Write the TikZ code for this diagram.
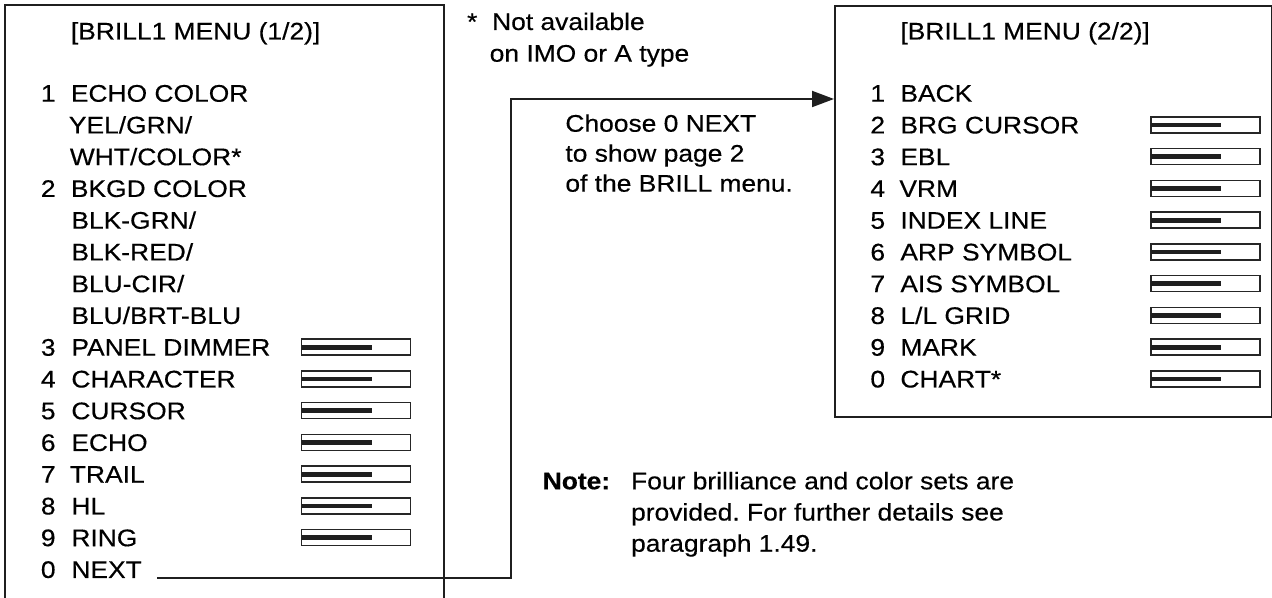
\documentclass[tikz,border=0pt]{standalone}
\usepackage{fontspec}
\setmainfont{Liberation Sans}[FakeStretch=1.1,FakeBold=0.4]
\usetikzlibrary{arrows.meta}
\frenchspacing
\begin{document}
\begin{tikzpicture}[x=0.5pt,y=-0.5pt,
  txt/.style={anchor=base west, inner sep=0pt, font=\fontsize{12}{14}\selectfont},
  frame/.style={line width=1pt, draw=black!88},
  conn/.style={line width=1pt, draw=black!88, -{Triangle[length=11pt,width=8pt]}},
  slider/.pic={\draw[line width=0.75pt, draw=black!85] (0,0) rectangle (109,16);
               \draw[line width=2.4pt, draw=black!88] (0,8) -- (70,8);}
]
\useasboundingbox (0,0) rectangle (1272,598);

% left menu frame (bottom cut off)
\draw[frame] (5,598) -- (5,5) -- (444,5) -- (444,598);

% right menu frame
\node[frame, draw, anchor=north west, minimum width=218.5pt, minimum height=205.5pt, inner sep=0pt] (m2) at (834,5) {};

% ---- left menu ----
\node[txt] (t1) at (70.5,39.5) {[BRILL1 MENU (1/2)]};
\node[txt] (l1n) at (40.5,101.7) {1};  \node[txt] (l1) at (70.5,101.7) {ECHO COLOR};
\node[txt] (l1a) at (68.5,133.45) {YEL/GRN/};
\node[txt] (l1b) at (69.5,165.2) {WHT/COLOR*};
\node[txt] (l2n) at (40.5,196.95) {2}; \node[txt] (l2) at (70.5,196.95) {BKGD COLOR};
\node[txt] (l2a) at (71,228.7) {BLK-GRN/};
\node[txt] (l2b) at (71,260.45) {BLK-RED/};
\node[txt] (l2c) at (71,292.2) {BLU-CIR/};
\node[txt] (l2d) at (71,323.95) {BLU/BRT-BLU};
\node[txt] (l3n) at (40.5,355.7) {3};  \node[txt] (l3) at (71,355.7) {PANEL DIMMER};
\node[txt] (l4n) at (40.5,387.45) {4}; \node[txt] (l4) at (71,387.45) {CHARACTER};
\node[txt] (l5n) at (40.5,419.2) {5};  \node[txt] (l5) at (71,419.2) {CURSOR};
\node[txt] (l6n) at (40.5,450.95) {6}; \node[txt] (l6) at (71,450.95) {ECHO};
\node[txt] (l7n) at (40.5,482.7) {7};  \node[txt] (l7) at (69.5,482.7) {TRAIL};
\node[txt] (l8n) at (40.5,514.45) {8}; \node[txt] (l8) at (71,514.45) {HL};
\node[txt] (l9n) at (40.5,546.2) {9};  \node[txt] (l9) at (71,546.2) {RING};
\node[txt] (l0n) at (40.5,577.95) {0}; \node[txt] (nx) at (71,577.95) {NEXT};

\foreach \b in {355.7,387.45,419.2,450.95,482.7,514.45,546.2}
  \pic at (301.7,\b-16.5) {slider};

% ---- right menu ----
\node[txt] (t2) at (900,39.5) {[BRILL1 MENU (2/2)]};
\node[txt] (r1n) at (870,101.7) {1};  \node[txt] (r1) at (900,101.7) {BACK};
\node[txt] (r2n) at (870,133.45) {2}; \node[txt] (r2) at (900,133.45) {BRG CURSOR};
\node[txt] (r3n) at (870,165.2) {3};  \node[txt] (r3) at (900,165.2) {EBL};
\node[txt] (r4n) at (870,196.95) {4}; \node[txt] (r4) at (899,196.95) {VRM};
\node[txt] (r5n) at (870,228.7) {5};  \node[txt] (r5) at (900,228.7) {INDEX LINE};
\node[txt] (r6n) at (870,260.45) {6}; \node[txt] (r6) at (900,260.45) {ARP SYMBOL};
\node[txt] (r7n) at (870,292.2) {7};  \node[txt] (r7) at (900,292.2) {AIS SYMBOL};
\node[txt] (r8n) at (870,323.95) {8}; \node[txt] (r8) at (900,323.95) {L/L GRID};
\node[txt] (r9n) at (870,355.7) {9};  \node[txt] (r9) at (900,355.7) {MARK};
\node[txt] (r0n) at (870,387.45) {0}; \node[txt] (r0) at (900,387.45) {CHART*};

\foreach \b in {133.45,165.2,196.95,228.7,260.45,292.2,323.95,355.7,387.45}
  \pic at (1151,\b-16.5) {slider};

% ---- middle texts ----
\node[txt] (ast) at (466.7,30) {*};
\node[txt] (na1) at (491.7,30) {Not available};
\node[txt] (na2) at (489.3,61.7) {on IMO or A type};
\node[txt] (c1) at (565,131.7) {Choose 0 NEXT};
\node[txt] (c2) at (565,161.7) {to show page 2};
\node[txt] (c3) at (565,191.7) {of the BRILL menu.};

\node[txt] (nt) at (542.3,489.3) {\textbf{Note:}};
\node[txt] (n1) at (630.7,489.3) {Four brilliance and color sets are};
\node[txt] (n2) at (630.7,520.5) {provided. For further details see};
\node[txt] (n3) at (630.7,551.7) {paragraph 1.49.};

% ---- connector ----
\coordinate (turn) at (511,99);
\draw[conn] ([xshift=7.5pt]nx.base east) -| (turn) -- (turn -| m2.west);
\end{tikzpicture}
\end{document}
